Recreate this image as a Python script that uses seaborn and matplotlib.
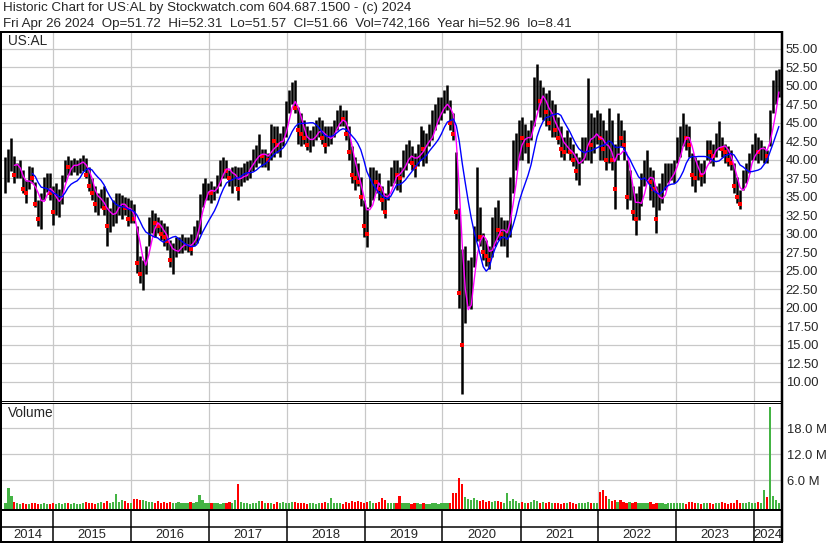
import numpy as np
import pandas as pd
import matplotlib
matplotlib.use('Agg')
import matplotlib.pyplot as plt
import matplotlib.dates as mdates
from matplotlib.lines import Line2D
import seaborn as sns

# two-week bars ending Fri Apr 26 2024, one row per calendar year
high = [
    40.4, 41.5, 42.9, 40.5, 39.5, 40.0, 38.6, 37.3, 39.2, 39.0, 37.0, 34.6, 35.5, 37.7, 38.2, 38.2, 36.4,
    36.8, 36.0, 38.0, 40.0, 40.5, 40.0, 40.3, 40.0, 40.2, 40.7, 40.3, 39.0, 37.5, 36.5, 35.5, 36.0, 36.5, 35.0, 33.5, 34.5, 35.5, 35.5, 35.2, 35.0, 34.8, 34.5,
    34.0, 31.0, 27.0, 26.5, 28.3, 32.3, 33.2, 32.8, 32.3, 31.9, 31.4, 31.0, 29.2, 28.7, 29.6, 29.6, 30.0, 29.6, 29.6, 30.0, 31.0, 31.9, 35.4, 36.8, 37.5, 36.8,
    37.2, 36.5, 38.0, 40.0, 40.4, 40.0, 38.6, 39.0, 39.2, 39.0, 39.0, 39.5, 39.8, 40.0, 41.5, 42.0, 43.5, 41.5, 41.5, 40.9, 44.9, 44.5, 44.5, 43.6, 44.5, 48.0,
    49.4, 50.5, 50.8, 47.2, 46.3, 45.4, 44.5, 44.0, 44.5, 45.4, 45.8, 45.4, 44.5, 44.5, 44.5, 45.4, 46.7, 47.4, 46.7, 46.7, 44.5, 41.8, 40.4, 39.5, 37.7, 34.6,
    33.6, 39.0, 39.0, 38.6, 38.2, 36.4, 35.5, 37.3, 39.0, 40.0, 40.0, 39.0, 41.3, 42.2, 42.7, 41.8, 40.9, 42.2, 44.5, 44.0, 43.6, 44.9, 46.7, 47.6, 48.5, 48.5,
    49.4, 50.1, 48.1, 46.3, 41.0, 33.5, 28.0, 28.3, 26.5, 26.9, 31.0, 39.0, 33.6, 30.1, 29.2, 28.3, 32.3, 33.6, 34.6, 32.3, 31.9, 31.9, 37.7, 42.7, 43.6, 45.4,
    45.8, 44.9, 44.0, 45.4, 51.2, 52.96, 50.8, 49.9, 49.0, 49.4, 48.1, 47.6, 45.8, 44.5, 43.1, 44.0, 43.1, 42.2, 40.9, 40.4, 43.1, 43.1, 51.0, 46.3, 45.8, 46.7,
    46.3, 45.4, 44.0, 47.0, 45.4, 42.2, 46.3, 45.4, 44.0, 40.0, 38.6, 36.4, 35.5, 36.4, 38.2, 40.0, 41.3, 39.0, 38.6, 36.4, 36.8, 38.2, 39.5, 39.5, 39.5, 40.0,
    43.1, 44.5, 46.3, 44.9, 44.5, 40.9, 40.4, 40.0, 39.5, 40.0, 42.7, 42.7, 42.2, 43.6, 45.2, 43.1, 42.2, 41.8, 41.3, 39.5, 37.7, 35.9, 38.6, 39.5, 40.9, 42.2,
    43.6, 43.1, 42.7, 41.8, 41.3, 46.7, 50.8, 52.1, 52.31,
]
low = [
    35.5, 37.0, 38.5, 36.8, 37.5, 37.5, 35.5, 34.1, 36.0, 36.8, 33.6, 31.0, 30.7, 34.6, 35.7, 34.6, 31.2,
    32.5, 32.3, 34.0, 37.0, 38.0, 38.0, 38.3, 38.0, 38.2, 38.5, 37.5, 35.8, 34.5, 33.0, 32.6, 33.5, 32.5, 28.3, 30.2, 31.0, 31.5, 32.5, 32.0, 32.5, 31.0, 31.5,
    31.5, 24.7, 23.3, 22.4, 24.6, 28.3, 30.1, 29.6, 30.1, 29.2, 28.3, 27.8, 25.5, 24.5, 26.9, 27.4, 27.4, 27.8, 27.6, 27.1, 28.3, 28.7, 30.0, 33.6, 34.6, 34.6,
    34.2, 34.6, 35.5, 36.5, 37.5, 37.5, 36.5, 35.5, 36.5, 34.6, 36.4, 37.0, 37.3, 37.5, 38.5, 39.0, 39.5, 39.0, 39.0, 38.6, 40.0, 40.4, 40.9, 40.4, 41.8, 43.1,
    46.3, 47.6, 46.3, 42.2, 41.8, 42.2, 41.3, 41.1, 41.8, 42.7, 43.1, 42.2, 40.9, 41.8, 42.2, 43.1, 44.0, 44.5, 44.5, 42.7, 40.0, 36.8, 35.9, 36.4, 33.7, 29.6,
    28.2, 33.6, 34.6, 35.5, 34.6, 33.2, 32.1, 34.6, 36.4, 36.8, 35.9, 35.7, 37.7, 38.6, 39.5, 38.6, 37.7, 39.1, 40.0, 39.1, 39.5, 41.8, 42.7, 44.0, 44.9, 45.4,
    46.3, 46.7, 44.0, 42.7, 32.0, 20.0, 8.41, 17.9, 20.2, 19.9, 25.5, 29.0, 28.3, 26.4, 25.6, 25.3, 26.9, 28.3, 29.2, 28.3, 28.3, 26.9, 29.6, 35.5, 38.6, 40.0,
    40.0, 40.9, 39.5, 42.7, 44.5, 46.7, 45.8, 45.4, 44.5, 44.0, 43.1, 43.1, 42.2, 40.4, 40.0, 40.9, 40.0, 39.1, 37.3, 36.6, 39.5, 40.0, 40.0, 39.5, 40.9, 42.2,
    40.0, 40.0, 38.6, 39.5, 38.6, 33.4, 40.0, 41.8, 40.0, 33.4, 34.6, 31.9, 29.8, 31.9, 33.7, 36.4, 37.3, 34.6, 33.6, 30.1, 33.2, 34.1, 35.9, 36.8, 37.3, 36.8,
    39.5, 40.4, 41.8, 41.3, 40.4, 36.4, 35.7, 37.3, 36.4, 36.8, 40.0, 39.5, 39.1, 40.4, 41.3, 40.4, 39.5, 39.1, 38.6, 35.5, 34.1, 33.4, 35.9, 36.8, 38.2, 40.0,
    40.0, 39.5, 40.0, 39.5, 39.5, 41.8, 46.3, 47.6, 48.5,
]
close = [
    38.0, 40.5, 40.5, 38.0, 38.5, 38.5, 36.0, 35.5, 38.5, 37.5, 34.0, 32.0, 34.5, 37.0, 37.5, 35.5, 33.0,
    34.0, 35.0, 37.5, 39.5, 39.0, 39.0, 39.5, 39.5, 39.8, 40.0, 38.0, 36.5, 35.5, 34.0, 34.5, 35.0, 33.5, 31.0, 32.5, 33.5, 34.0, 34.0, 34.5, 33.5, 32.0, 33.5,
    32.0, 26.0, 24.5, 25.0, 27.5, 31.5, 32.0, 31.5, 31.0, 30.0, 29.5, 29.0, 26.5, 27.0, 28.5, 28.5, 28.5, 28.5, 28.5, 28.0, 30.0, 31.0, 34.5, 36.0, 36.0, 36.0,
    35.5, 35.5, 37.5, 39.5, 39.5, 38.5, 37.5, 37.5, 38.5, 36.0, 38.0, 38.5, 39.0, 39.5, 40.5, 41.0, 41.0, 40.5, 40.5, 40.0, 43.0, 42.5, 42.0, 42.0, 43.5, 47.0,
    48.5, 49.0, 47.0, 44.0, 43.5, 43.0, 42.0, 42.5, 43.5, 44.5, 44.5, 43.0, 42.0, 43.0, 43.5, 44.5, 45.5, 46.0, 45.5, 43.5, 41.0, 38.0, 37.5, 37.0, 35.0, 31.0,
    30.0, 37.0, 37.5, 37.0, 36.0, 34.5, 33.0, 36.5, 38.0, 38.5, 38.0, 37.5, 40.0, 41.0, 41.5, 39.5, 39.0, 41.0, 43.0, 41.5, 42.0, 43.5, 45.0, 46.0, 47.0, 47.0,
    48.0, 48.0, 45.0, 43.5, 33.0, 22.0, 15.0, 20.0, 22.0, 24.5, 29.0, 33.0, 29.5, 27.5, 27.0, 26.5, 30.0, 31.5, 30.5, 30.0, 30.0, 30.0, 36.0, 40.0, 41.0, 44.0,
    43.0, 43.0, 42.0, 44.0, 49.0, 49.0, 48.0, 48.5, 46.5, 45.0, 45.5, 44.0, 43.0, 41.5, 41.0, 42.0, 41.0, 40.0, 38.5, 38.5, 42.0, 42.0, 45.0, 42.0, 43.0, 44.0,
    43.0, 41.5, 40.0, 43.0, 40.0, 36.0, 44.0, 43.0, 42.0, 35.0, 37.0, 33.0, 32.0, 35.0, 36.5, 38.0, 39.0, 37.0, 36.0, 32.0, 35.0, 36.0, 38.0, 38.0, 38.0, 38.5,
    42.0, 43.0, 44.0, 43.0, 42.0, 38.0, 37.5, 38.5, 38.0, 38.5, 41.5, 41.0, 40.5, 42.0, 43.0, 41.5, 41.0, 40.0, 39.5, 36.5, 35.0, 34.0, 38.0, 38.5, 40.0, 41.5,
    42.0, 41.0, 41.5, 41.8, 40.5, 45.5, 49.0, 50.5, 51.66,
]
# volume in millions of shares
volume = [
    0.8, 4.1, 2.4, 1.0, 0.6, 0.5, 0.7, 0.4, 0.5, 0.6, 0.7, 0.5, 0.4, 0.6, 0.5, 0.4, 0.6,
    0.5, 0.6, 0.4, 0.7, 0.8, 0.5, 0.6, 0.4, 0.5, 0.7, 0.9, 0.6, 0.8, 0.5, 0.7, 1.0, 0.8, 1.1, 0.7, 0.9, 2.8, 1.0, 1.5, 1.2, 0.8, 0.7,
    1.6, 1.7, 1.5, 1.3, 1.1, 1.0, 0.9, 0.8, 1.1, 0.7, 0.9, 0.6, 1.0, 0.8, 0.7, 0.9, 0.6, 0.8, 0.7, 0.9, 0.8, 1.0, 2.6, 1.4, 0.8, 0.7,
    0.7, 0.6, 0.8, 0.5, 0.7, 0.6, 0.9, 0.7, 1.3, 5.1, 0.9, 0.6, 0.7, 0.5, 0.8, 0.6, 1.1, 1.2, 0.7, 0.6, 0.8, 0.5, 0.9, 0.6, 1.0, 0.7,
    0.7, 0.9, 1.0, 0.8, 0.6, 0.7, 0.5, 0.6, 0.8, 0.5, 0.7, 0.6, 0.9, 0.7, 1.9, 0.6, 0.7, 0.8, 0.5, 1.0, 0.7, 1.1, 0.9, 1.2, 1.0, 0.8,
    0.9, 1.1, 0.8, 0.7, 0.9, 1.9, 1.5, 0.7, 0.6, 0.8, 0.7, 2.3, 0.7, 0.6, 0.8, 0.5, 0.6, 0.7, 0.5, 0.6, 0.4, 0.5, 0.7, 0.6, 0.5, 0.7,
    0.6, 0.7, 0.8, 2.9, 3.0, 6.4, 5.1, 2.0, 1.6, 1.3, 1.8, 1.5, 1.2, 1.3, 1.0, 1.2, 0.9, 1.1, 1.1, 1.0, 0.8, 3.0, 1.1, 1.7, 1.2, 0.8,
    0.9, 0.8, 0.7, 1.0, 1.5, 1.1, 0.7, 0.9, 0.6, 1.0, 0.7, 0.6, 0.8, 0.5, 0.7, 0.6, 0.9, 0.7, 0.5, 0.8, 0.6, 0.7, 1.0, 0.6, 0.8, 0.7,
    3.2, 3.6, 2.2, 1.6, 1.2, 1.3, 1.0, 1.5, 0.9, 0.8, 1.0, 0.7, 0.9, 0.6, 0.8, 0.7, 0.6, 0.9, 0.5, 0.7, 0.6, 0.8, 0.5, 0.7, 0.6, 0.7,
    0.6, 0.7, 0.8, 0.5, 0.9, 1.0, 0.7, 0.6, 0.5, 0.7, 0.6, 0.8, 0.5, 0.6, 0.7, 0.9, 0.6, 0.5, 0.8, 0.7, 1.4, 0.8, 0.6, 0.7, 0.9, 0.8,
    0.8, 0.9, 0.7, 3.7, 2.0, 22.9, 2.2, 1.5, 0.8,
]
years = list(range(2014, 2025))
price_ticks = np.arange(10, 55.01, 2.5)
vol_ticks = [6, 12, 18]
vol_labels = ['6.0 M', '12.0 M', '18.0 M']

header1 = 'Historic Chart for US:AL by Stockwatch.com 604.687.1500 - (c) 2024'
header2 = ('Fri Apr 26 2024  Op=51.72  Hi=52.31  Lo=51.57  Cl=51.66  '
           'Vol=742,166  Year hi=52.96  lo=8.41')

assert len(high) == len(low) == len(close) == len(volume) == 260

df = pd.DataFrame({'date': pd.date_range(end='2024-04-26', periods=260, freq='14D'),
                   'high': high, 'low': low, 'close': close, 'volume': volume})
df['x'] = mdates.date2num(df['date'])
df['ma_fast'] = df['close'].rolling(4).mean()
df['ma_slow'] = df['close'].rolling(10).mean()
df['down'] = df['close'].diff() < 0

sns.set_style('white')
plt.rcParams['font.family'] = ['Liberation Sans', 'DejaVu Sans']
FS = 9.4
FS_HEAD = 9.6

W, H = 830, 543
fig = plt.figure(figsize=(W / 100, H / 100), dpi=100)


def box(x0, y0, x1, y1):
    return [x0 / W, 1 - y1 / H, (x1 - x0) / W, (y1 - y0) / H]


def line(xs, ys, lw):
    fig.add_artist(Line2D([x / W for x in xs], [1 - y / H for y in ys],
                          color='black', lw=lw * 0.72, solid_capstyle='butt'))


x0 = mdates.date2num(pd.Timestamp('2014-05-07'))
x1 = mdates.date2num(pd.Timestamp('2024-05-06'))
bounds = [mdates.date2num(pd.Timestamp(f'{y}-01-01')) for y in years[1:]]
grid_kw = dict(color='#c8c8c8', lw=0.9)

# price panel
ax = fig.add_axes(box(2, 32, 781, 400.5))
ax.set_xlim(x0, x1)
ax.set_ylim(7.47, 57.27)
ax.set_yticks(price_ticks)
ax.set_yticklabels([f'{v:.2f}' for v in price_ticks], fontsize=FS)
ax.set_xticks(bounds)
ax.yaxis.tick_right()
ax.tick_params(axis='y', length=0, pad=3.5)
ax.tick_params(axis='x', length=0, labelbottom=False)
ax.grid(True, **grid_kw)
ax.set_axisbelow(True)
for s in ax.spines.values():
    s.set_visible(False)
ax.vlines(df['x'], df['low'], df['high'], color='black', lw=1.8, zorder=2)
dn = df[df['down']]
sns.scatterplot(x=dn['x'], y=dn['close'], marker='s', s=5, color='red',
                linewidth=0, ax=ax, zorder=3)
sns.lineplot(x=df['x'], y=df['ma_fast'], color='#ff00ff', lw=1, ax=ax,
             estimator=None, zorder=4)
sns.lineplot(x=df['x'], y=df['ma_slow'], color='#0000ff', lw=1, ax=ax,
             estimator=None, zorder=4)
ax.set_xlabel('')
ax.set_ylabel('')
fig.text(8 / W, 1 - 41 / H, 'US:AL', fontsize=9.8, va='center', ha='left')

# volume panel
vbase = -0.69
axv = fig.add_axes(box(2, 402.5, 781, 509))
axv.set_xlim(x0, x1)
axv.set_ylim(vbase, 23.9)
axv.set_yticks(vol_ticks)
axv.set_yticklabels(vol_labels, fontsize=FS)
axv.set_xticks(bounds)
axv.yaxis.tick_right()
axv.tick_params(axis='y', length=0, pad=4)
axv.tick_params(axis='x', length=0, labelbottom=False)
axv.grid(True, **grid_kw)
axv.set_axisbelow(True)
for s in axv.spines.values():
    s.set_visible(False)
colors = np.where(df['down'], '#ff0000', '#44b444')
axv.bar(df['x'], df['volume'] - vbase, bottom=vbase, width=10.5,
        color=colors, linewidth=0, zorder=2)
fig.text(8 / W, 1 - 413 / H, 'Volume', fontsize=9.8, va='center', ha='left')

# year strip
axy = fig.add_axes(box(2, 527, 781, 541))
axy.set_xlim(x0, x1)
axy.set_ylim(0, 1)
axy.axis('off')
edges = [x0] + bounds + [x1]
for yr, a, b in zip(years, edges[:-1], edges[1:]):
    axy.text((a + b) / 2, 0.45, str(yr), ha='center', va='center', fontsize=FS)

# frame lines
def to_px(v):
    return 2 + (v - x0) / (x1 - x0) * 779


line([0, 783], [31.5, 31.5], 2)
line([1, 1], [31, 542], 2)
line([782, 782], [31, 542], 2.5)
line([1, 782], [400.8, 400.8], 1)
line([1, 782], [402.6, 402.6], 1)
line([1, 782], [509.5, 509.5], 2)
line([1, 782], [526.5, 526.5], 1.5)
line([0, 783], [541.5, 541.5], 2)
for bnd in bounds:
    px = to_px(bnd)
    line([px, px], [509, 541], 1.5)

fig.text(3 / W, 1 - 8.5 / H, header1, fontsize=FS_HEAD, va='center', ha='left')
fig.text(3 / W, 1 - 23.5 / H, header2, fontsize=FS_HEAD, va='center', ha='left')

fig.savefig('out.png', dpi=100)
